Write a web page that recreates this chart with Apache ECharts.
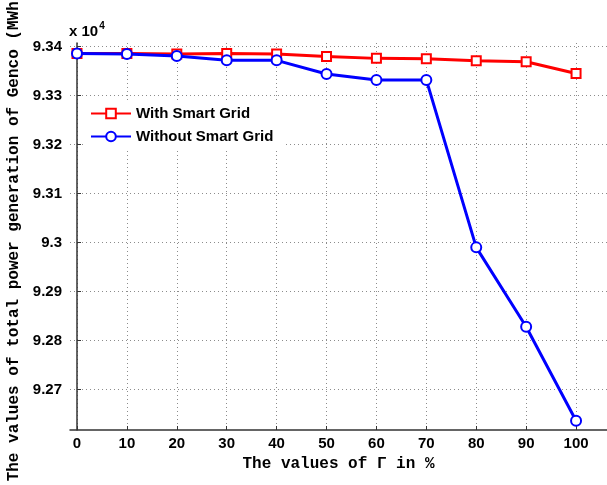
<!DOCTYPE html>
<html>
<head>
<meta charset="utf-8">
<script src="https://cdn.jsdelivr.net/npm/echarts@6/dist/echarts.min.js"></script>
<style>
html,body{margin:0;padding:0;background:#fff;}
#chart{width:607px;height:485px;}
</style>
</head>
<body>
<div id="chart"></div>
<script>
// Gamma values (%)
const gammaValues = [0, 10, 20, 30, 40, 50, 60, 70, 80, 90, 100];
// Total power generation of Genco (x 10^4 MWh)
const withSmartGrid = [9.3386, 9.3386, 9.3385, 9.3386, 9.3385, 9.3380, 9.3376, 9.3375, 9.3371, 9.3369, 9.3345];
const withoutSmartGrid = [9.3386, 9.3385, 9.3381, 9.3372, 9.3372, 9.3344, 9.3332, 9.3332, 9.2990, 9.2828, 9.2636];
// Tick values
const xTicks = [0, 10, 20, 30, 40, 50, 60, 70, 80, 90, 100];
const yTicks = [9.27, 9.28, 9.29, 9.30, 9.31, 9.32, 9.33, 9.34];

const seriesNames = ['With Smart Grid', 'Without Smart Grid'];

const chart = echarts.init(document.getElementById('chart'), null, {renderer: 'canvas'});

const labelFont = {fontFamily: 'Liberation Sans, Arial, sans-serif', fontWeight: 'bold', fontSize: 15, color: '#000'};
const monoFont = {fontFamily: 'Liberation Mono, Courier New, monospace', fontWeight: 'bold', fontSize: 16, color: '#000'};
const gridLine = {show: true, lineStyle: {color: '#8c8c8c', width: 1, type: [1, 3]}};

chart.setOption({
  animation: false,
  backgroundColor: '#fff',
  title: {
    text: 'x 10{sup|4}',
    left: 69,
    top: 21,
    textStyle: {
      fontFamily: 'Liberation Sans, Arial, sans-serif', fontWeight: 'bold', fontSize: 15, color: '#000',
      rich: {sup: {fontFamily: 'Liberation Sans, Arial, sans-serif', fontSize: 10, fontWeight: 'bold', verticalAlign: 'top', padding: [0, 0, 12, 1]}}
    },
    padding: 0
  },
  grid: {left: 70, top: 43, right: 0, bottom: 55, containLabel: false, outerBoundsMode: 'none'},
  legend: {
    orient: 'vertical',
    left: 85,
    top: 101,
    data: seriesNames,
    itemWidth: 40,
    itemHeight: 12,
    itemGap: 8,
    padding: [5, 10, 6, 5],
    backgroundColor: '#fff',
    textStyle: {fontFamily: 'Liberation Sans, Arial, sans-serif', fontWeight: 'bold', fontSize: 15, color: '#000'}
  },
  xAxis: {
    type: 'value',
    min: -1.4,
    max: 106.2,
    name: 'The values of \u0393 in %',
    nameLocation: 'middle',
    nameGap: 24,
    nameTextStyle: monoFont,
    axisLine: {show: true, lineStyle: {color: '#333', width: 1.5}},
    axisTick: {show: true, inside: true, length: 4, customValues: xTicks, lineStyle: {color: '#333', width: 1}},
    axisLabel: {customValues: xTicks, margin: 6, ...labelFont},
    splitLine: gridLine
  },
  yAxis: {
    type: 'value',
    min: 9.2617,
    max: 9.34074,
    name: 'The values of total power generation of Genco (MWh)',
    nameLocation: 'middle',
    nameGap: 47,
    nameTextStyle: monoFont,
    axisLine: {show: true, lineStyle: {color: '#333', width: 1.5}},
    axisTick: {show: true, inside: true, length: 4, customValues: yTicks, lineStyle: {color: '#333', width: 1}},
    axisLabel: {
      customValues: yTicks, margin: 8, ...labelFont,
      formatter: v => String(parseFloat(Number(v).toFixed(2)))
    },
    splitLine: gridLine
  },
  series: [
    {
      name: seriesNames[0],
      type: 'line',
      data: gammaValues.map((g, i) => [g, withSmartGrid[i]]),
      symbol: 'emptyRect',
      symbolSize: 9,
      color: '#ff0000',
      lineStyle: {width: 3, color: '#ff0000'},
      itemStyle: {color: '#ff0000', borderWidth: 2.2},
      z: 3
    },
    {
      name: seriesNames[1],
      type: 'line',
      data: gammaValues.map((g, i) => [g, withoutSmartGrid[i]]),
      symbol: 'emptyCircle',
      symbolSize: 10,
      color: '#0000ff',
      lineStyle: {width: 3, color: '#0000ff'},
      itemStyle: {color: '#0000ff', borderWidth: 2.2},
      z: 4
    }
  ]
});
</script>
</body>
</html>
